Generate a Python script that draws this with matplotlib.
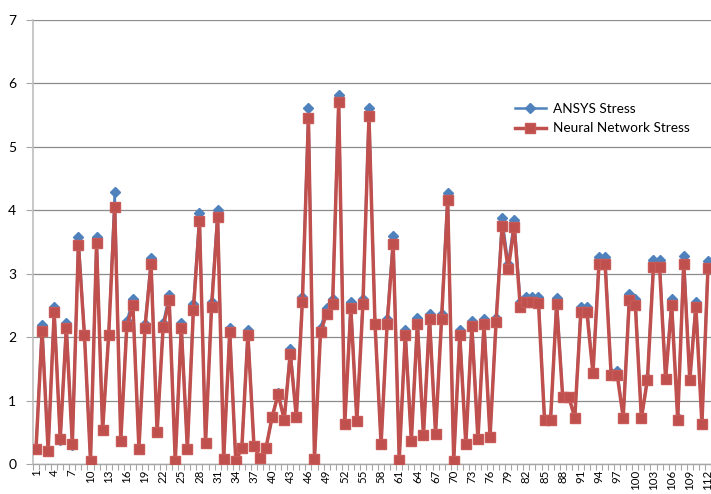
import matplotlib
matplotlib.use("Agg")
import matplotlib.pyplot as plt
import numpy as np

plt.rcParams['font.family'] = ['Lato', 'DejaVu Sans']

# sample number along the x axis
samples = list(range(1, 113))

# stress from the finite element model
ansys_stress = [
    0.25, 2.19, 0.22, 2.47, 0.38, 2.22, 0.30, 3.58, 2.05, 0.05,
    3.58, 0.53, 2.05, 4.29, 0.37, 2.25, 2.60, 0.24, 2.20, 3.24,
    0.50, 2.22, 2.66, 0.05, 2.23, 0.24, 2.52, 3.95, 0.33, 2.55,
    4.01, 0.09, 2.15, 0.04, 0.26, 2.12, 0.29, 0.10, 0.26, 0.74,
    1.12, 0.70, 1.82, 0.74, 2.64, 5.62, 0.08, 2.15, 2.46, 2.60,
    5.82, 0.63, 2.55, 0.68, 2.60, 5.62, 2.22, 0.31, 2.28, 3.59,
    0.07, 2.12, 0.37, 2.30, 0.45, 2.37, 0.48, 2.36, 4.28, 0.05,
    2.12, 0.31, 2.25, 0.39, 2.28, 0.43, 2.30, 3.88, 3.15, 3.85,
    2.55, 2.64, 2.64, 2.64, 0.70, 0.70, 2.62, 1.06, 1.06, 0.73,
    2.48, 2.48, 1.44, 3.27, 3.27, 1.43, 1.46, 0.73, 2.68, 2.60,
    0.72, 1.35, 3.22, 3.22, 1.35, 2.60, 0.72, 3.28, 1.33, 2.56,
    0.65, 3.20,
]

# stress predicted by the trained network
nn_stress = [
    0.24, 2.10, 0.21, 2.39, 0.39, 2.14, 0.32, 3.46, 2.03, 0.05,
    3.48, 0.53, 2.03, 4.05, 0.37, 2.17, 2.51, 0.24, 2.15, 3.15,
    0.50, 2.16, 2.58, 0.04, 2.15, 0.24, 2.43, 3.83, 0.33, 2.47,
    3.89, 0.08, 2.08, 0.04, 0.26, 2.04, 0.29, 0.09, 0.26, 0.74,
    1.10, 0.70, 1.74, 0.74, 2.55, 5.45, 0.08, 2.08, 2.37, 2.52,
    5.70, 0.63, 2.46, 0.68, 2.52, 5.48, 2.20, 0.31, 2.21, 3.47,
    0.07, 2.04, 0.37, 2.21, 0.45, 2.29, 0.48, 2.29, 4.16, 0.05,
    2.03, 0.31, 2.17, 0.39, 2.20, 0.43, 2.24, 3.75, 3.07, 3.74,
    2.47, 2.55, 2.55, 2.54, 0.70, 0.70, 2.52, 1.06, 1.06, 0.73,
    2.39, 2.39, 1.43, 3.16, 3.16, 1.41, 1.41, 0.73, 2.58, 2.50,
    0.72, 1.33, 3.11, 3.11, 1.34, 2.51, 0.70, 3.16, 1.32, 2.48,
    0.63, 3.09,
]

blue = '#4F81BD'
red = '#C0504D'

fig = plt.figure(figsize=(7.11, 4.94), dpi=100)
ax = fig.add_axes([33 / 711, 30 / 494, 678 / 711, 444 / 494])

ax.plot(samples, ansys_stress, color=blue, lw=1.8, marker='D', ms=5.5,
        mec=blue, mfc=blue, label='ANSYS Stress', zorder=3)
ax.plot(samples, nn_stress, color=red, lw=2.5, marker='s', ms=7.2,
        mec='#C85A57', mfc=red, label='Neural Network Stress', zorder=4)

ax.set_xlim(0.5, 112.5)
ax.set_ylim(0, 7)
ax.set_yticks(range(0, 8))
ax.grid(axis='y', color='#8C8C8C', lw=0.9)
ax.set_axisbelow(True)

# every third sample gets a label, tick marks sit between samples
ax.set_xticks(samples[::3])
ax.set_xticklabels([str(s) for s in samples[::3]], rotation=90, fontsize=8.3)
ax.set_xticks(np.arange(0.5, 113, 1), minor=True)
ax.tick_params(axis='x', which='major', length=0, pad=4)
ax.tick_params(axis='x', which='minor', length=4, color='#A6A6A6', width=0.8)
ax.tick_params(axis='y', length=5, color='#A6A6A6', width=0.8,
               labelsize=10, pad=7)

for side in ['top', 'right']:
    ax.spines[side].set_visible(False)
ax.spines['left'].set_color('#BFBFBF')
ax.spines['left'].set_linewidth(1.2)
ax.spines['bottom'].set_color('#A6A6A6')
ax.spines['bottom'].set_linewidth(1.0)

leg = ax.legend(loc='upper left', bbox_to_anchor=(508 / 711, 1 - 96 / 494),
                bbox_transform=fig.transFigure, frameon=False, fontsize=9.8,
                handlelength=2.3, handletextpad=0.5, labelspacing=0.55,
                borderpad=0)

fig.savefig('out.png', dpi=100)
